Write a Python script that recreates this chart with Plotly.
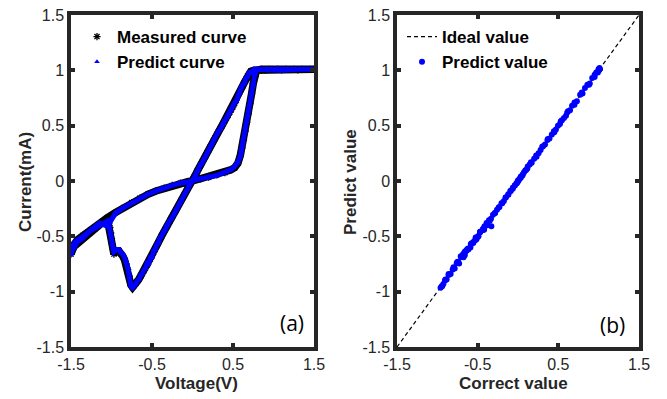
import plotly.graph_objects as go

# ---------------- data ----------------
# Segment 1: forward sweep from 0 V, low branch and steep SET rise
v_set = [0.00, 0.10, 0.20, 0.30, 0.40, 0.47, 0.52, 0.56, 0.59, 0.61, 0.63, 0.65, 0.67, 0.69, 0.71, 0.73, 0.75, 0.77, 0.79]
i_set_meas = [0.00, 0.02, 0.035, 0.055, 0.075, 0.10, 0.12, 0.16, 0.23, 0.30, 0.37, 0.45, 0.53, 0.61, 0.70, 0.79, 0.88, 0.95, 1.00]
i_set_pred = [0.005, 0.02, 0.04, 0.05, 0.08, 0.10, 0.13, 0.17, 0.22, 0.31, 0.38, 0.44, 0.54, 0.62, 0.69, 0.80, 0.87, 0.96, 1.01]

# Segment 2: compliance plateau
v_top = [0.85, 0.95, 1.05, 1.15, 1.25, 1.35, 1.45, 1.50, 1.30, 1.10, 0.90, 0.76, 0.72]
i_top_meas = [1.01, 1.01, 1.01, 1.01, 1.01, 1.01, 1.01, 1.01, 1.005, 1.005, 1.005, 1.00, 0.99]
i_top_pred = [1.01, 1.01, 1.02, 1.01, 1.01, 1.01, 1.01, 1.01, 1.01, 1.00, 1.01, 1.01, 0.98]

# Segment 3: linear (ON-state) descending branch
v_on = [0.70, 0.68, 0.66, 0.64, 0.62, 0.60, 0.58, 0.56, 0.54, 0.52, 0.50, 0.48, 0.46, 0.44, 0.42, 0.40, 0.38,
        0.36, 0.34, 0.32, 0.30, 0.28, 0.26, 0.24, 0.22, 0.20, 0.18, 0.16, 0.14, 0.12, 0.10, 0.08, 0.06, 0.04,
        0.02, 0.00, -0.02, -0.04, -0.06, -0.08, -0.10, -0.12, -0.14, -0.16, -0.18, -0.20, -0.22, -0.24, -0.26,
        -0.28, -0.30, -0.32, -0.34, -0.36, -0.38, -0.40, -0.42, -0.44, -0.46, -0.48, -0.50, -0.52, -0.54, -0.56,
        -0.58, -0.60, -0.62, -0.64, -0.66, -0.68, -0.70, -0.72, -0.74]
i_on_meas = [0.97, 0.95, 0.92, 0.89, 0.86, 0.83, 0.80, 0.77, 0.73, 0.70, 0.67, 0.645, 0.62, 0.595, 0.57, 0.545, 0.52,
             0.495, 0.47, 0.445, 0.42, 0.39, 0.365, 0.335, 0.31, 0.28, 0.255, 0.225, 0.20, 0.17, 0.145, 0.115, 0.09,
             0.06, 0.035, 0.01, -0.015, -0.04, -0.065, -0.095, -0.12, -0.15, -0.175, -0.205, -0.23, -0.26, -0.285,
             -0.31, -0.335, -0.36, -0.39, -0.415, -0.44, -0.47, -0.495, -0.525, -0.555, -0.585, -0.615, -0.645,
             -0.675, -0.705, -0.73, -0.76, -0.785, -0.81, -0.835, -0.86, -0.885, -0.905, -0.925, -0.945, -0.96]
i_on_pred = [0.98, 0.94, 0.93, 0.88, 0.87, 0.84, 0.79, 0.78, 0.72, 0.71, 0.68, 0.64, 0.63, 0.59, 0.57, 0.55, 0.515,
             0.50, 0.465, 0.45, 0.42, 0.385, 0.37, 0.33, 0.315, 0.28, 0.25, 0.23, 0.20, 0.165, 0.15, 0.11, 0.095,
             0.06, 0.03, 0.01, -0.02, -0.04, -0.07, -0.09, -0.125, -0.15, -0.18, -0.20, -0.235, -0.26, -0.29,
             -0.305, -0.34, -0.355, -0.40, -0.41, -0.445, -0.46, -0.50, -0.51, -0.56, -0.57, -0.62, -0.63,
             -0.69, -0.69, -0.745, -0.74, -0.79, -0.80, -0.84, -0.85, -0.89, -0.90, -0.93, -0.95, -0.965]

# Segment 4: RESET region
v_reset = [-0.76, -0.77, -0.78, -0.80, -0.82, -0.84, -0.86, -0.88, -0.91, -0.94, -0.97, -0.98, -0.99, -1.00, -1.01,
           -1.02, -1.03, -1.05]
i_reset_meas = [-0.94, -0.90, -0.86, -0.80, -0.75, -0.71, -0.68, -0.66, -0.63, -0.63, -0.66, -0.62, -0.57, -0.52,
                -0.47, -0.42, -0.38, -0.35]
i_reset_pred = [-0.95, -0.89, -0.84, -0.78, -0.73, -0.68, -0.66, -0.65, -0.62, -0.62, -0.64, -0.61, -0.56, -0.53,
                -0.46, -0.44, -0.40, -0.36]

# Segment 5: OFF-state branch out to -1.5 V
v_off_out = [-1.12, -1.20, -1.28, -1.36, -1.42, -1.46, -1.49, -1.50]
i_off_out_meas = [-0.38, -0.43, -0.47, -0.51, -0.55, -0.59, -0.64, -0.66]
i_off_out_pred = [-0.39, -0.43, -0.46, -0.52, -0.55, -0.60, -0.63, -0.67]

# Segment 6: OFF-state branch back to 0 V
v_off_back = [-1.47, -1.42, -1.35, -1.25, -1.15, -1.05, -0.95, -0.85, -0.75, -0.65, -0.55, -0.45, -0.35, -0.25,
              -0.15, -0.05, 0.00]
i_off_back_meas = [-0.58, -0.53, -0.49, -0.44, -0.39, -0.33, -0.285, -0.24, -0.195, -0.155, -0.12, -0.09, -0.065,
                   -0.04, -0.02, -0.005, 0.00]
i_off_back_pred = [-0.57, -0.53, -0.50, -0.44, -0.38, -0.41, -0.29, -0.24, -0.20, -0.15, -0.12, -0.09, -0.06,
                   -0.04, -0.02, -0.01, 0.00]

voltage = v_set + v_top + v_on + v_reset + v_off_out + v_off_back
current_measured = i_set_meas + i_top_meas + i_on_meas + i_reset_meas + i_off_out_meas + i_off_back_meas
current_predicted = i_set_pred + i_top_pred + i_on_pred + i_reset_pred + i_off_out_pred + i_off_back_pred

ideal_x = [-1.5, 1.5]
ideal_y = [-1.5, 1.5]

tick_vals_x = [-1.5, -0.5, 0.5, 1.5]
tick_vals_y = [-1.5, -1, -0.5, 0, 0.5, 1, 1.5]
tick_text_x = ["-1.5", "-0.5", "0.5", "1.5"]
tick_text_y = ["-1.5", "-1", "-0.5", "0", "0.5", "1", "1.5"]

# ---------------- figure ----------------
W, H = 667, 399
FONT = "Liberation Sans, Arial, sans-serif"
FRAME = "#262626"
BLUE = "#0000ff"

fig = go.Figure()

# left panel: measured (black) under predicted (blue)
fig.add_trace(go.Scatter(x=voltage, y=current_measured, mode="lines",
                         line=dict(color="black", width=7.5), showlegend=False,
                         xaxis="x", yaxis="y", hoverinfo="skip"))
fig.add_trace(go.Scatter(x=voltage, y=current_measured, mode="markers", name="Measured curve",
                         marker=dict(symbol="asterisk-open", size=6, color="black",
                                     line=dict(color="black", width=1.3)),
                         xaxis="x", yaxis="y", legend="legend"))
fig.add_trace(go.Scatter(x=voltage, y=current_predicted, mode="lines",
                         line=dict(color=BLUE, width=5), showlegend=False,
                         xaxis="x", yaxis="y", hoverinfo="skip"))
fig.add_trace(go.Scatter(x=voltage, y=current_predicted, mode="markers", name="Predict curve",
                         marker=dict(symbol="triangle-up", size=5, color=BLUE),
                         xaxis="x", yaxis="y", legend="legend"))

# right panel
fig.add_trace(go.Scatter(x=ideal_x, y=ideal_y, mode="lines", name="Ideal value",
                         line=dict(color="black", width=1.2, dash="4px,3px"),
                         xaxis="x2", yaxis="y2", legend="legend2"))
fig.add_trace(go.Scatter(x=current_measured, y=current_predicted, mode="markers", name="Predict value",
                         marker=dict(symbol="circle", size=6, color=BLUE),
                         xaxis="x2", yaxis="y2", legend="legend2"))

xdom1 = [71 / W, 314 / W]
xdom2 = [397 / W, 639 / W]
ydom = [1 - 347 / H, 1 - 15 / H]

axis_common = dict(
    range=[-1.5, 1.5], showgrid=False, zeroline=False,
    showline=True, linecolor=FRAME, linewidth=3.5, mirror="ticks",
    ticks="inside", ticklen=4, tickwidth=3.5, tickcolor=FRAME,
    tickfont=dict(family=FONT, size=16, color=FRAME), automargin=False,
)

legend_font = dict(family=FONT, size=17, color="black", weight="bold")

fig.update_layout(
    width=W, height=H,
    margin=dict(l=0, r=0, t=0, b=0),
    paper_bgcolor="white", plot_bgcolor="white",
    xaxis=dict(domain=xdom1, anchor="y", tickvals=tick_vals_x, ticktext=tick_text_x, **axis_common),
    yaxis=dict(domain=ydom, anchor="x", tickvals=tick_vals_y, ticktext=tick_text_y, **axis_common),
    xaxis2=dict(domain=xdom2, anchor="y2", tickvals=tick_vals_x, ticktext=tick_text_x, **axis_common),
    yaxis2=dict(domain=ydom, anchor="x2", tickvals=tick_vals_y, ticktext=tick_text_y, **axis_common),
    legend=dict(x=77 / W, y=1 - 19 / H, xanchor="left", yanchor="top",
                bgcolor="rgba(0,0,0,0)", borderwidth=0, font=legend_font),
    legend2=dict(x=402 / W, y=1 - 19 / H, xanchor="left", yanchor="top",
                 bgcolor="rgba(0,0,0,0)", borderwidth=0, font=legend_font),
    annotations=[
        dict(text="<b>Voltage(V)</b>", x=196 / W, y=1 - 383 / H, xref="paper", yref="paper",
             xanchor="center", yanchor="middle", showarrow=False,
             font=dict(family=FONT, size=17, color=FRAME)),
        dict(text="<b>Correct value</b>", x=513 / W, y=1 - 383 / H, xref="paper", yref="paper",
             xanchor="center", yanchor="middle", showarrow=False,
             font=dict(family=FONT, size=17, color=FRAME)),
        dict(text="<b>Current(mA)</b>", x=25 / W, y=1 - 182 / H, xref="paper", yref="paper",
             xanchor="center", yanchor="middle", showarrow=False, textangle=-90,
             font=dict(family=FONT, size=17, color=FRAME)),
        dict(text="<b>Predict value</b>", x=350 / W, y=1 - 182 / H, xref="paper", yref="paper",
             xanchor="center", yanchor="middle", showarrow=False, textangle=-90,
             font=dict(family=FONT, size=17, color=FRAME)),
        dict(text="(a)", x=292 / W, y=1 - 323 / H, xref="paper", yref="paper",
             xanchor="center", yanchor="middle", showarrow=False,
             font=dict(family="Open Sans, sans-serif", size=21, color="black")),
        dict(text="(b)", x=612 / W, y=1 - 325 / H, xref="paper", yref="paper",
             xanchor="center", yanchor="middle", showarrow=False,
             font=dict(family="Open Sans, sans-serif", size=21, color="black")),
    ],
)

fig.write_html("out.html")
